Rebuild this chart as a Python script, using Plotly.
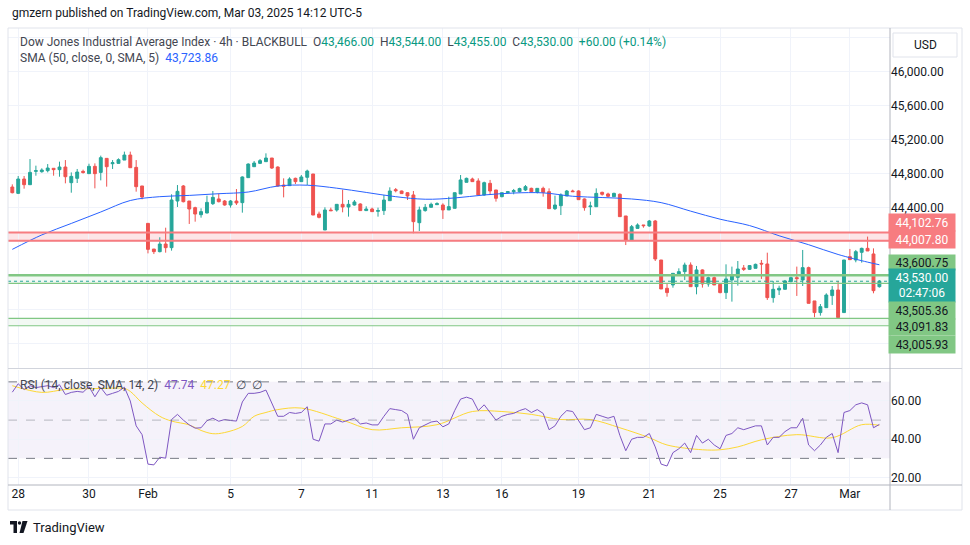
import plotly.graph_objects as go

# ---------------- data ----------------
opens = [44639, 44564, 44733, 44666, 44823, 44819, 44831, 44859, 44843, 44874,
         44690, 44741, 44823, 44796, 44882, 44811, 44976, 44913, 44917, 44956,
         45015, 44870, 44651, 44211, 43909, 43878, 43968, 43925, 44474, 44651,
         44474, 44396, 44313, 44333, 44443, 44498, 44474, 44427, 44474, 44455,
         44749, 44878, 44917, 44937, 44980, 44874, 44662, 44655, 44741, 44702,
         44753, 44792, 44321, 44133, 44368, 44368, 44435, 44404, 44427, 44439,
         44361, 44380, 44353, 44361, 44478, 44608, 44592, 44572, 44545, 44219,
         44361, 44400, 44431, 44427, 44369, 44388, 44557, 44694, 44733, 44710,
         44545, 44682, 44604, 44525, 44572, 44584, 44584, 44604, 44623, 44576,
         44623, 44584, 44384, 44419, 44533, 44592, 44592, 44498, 44407, 44407,
         44576, 44557, 44525, 44553, 44298, 44015, 44152, 44192, 44180, 44239,
         43780, 43447, 43486, 43611, 43643, 43721, 43466, 43663, 43498, 43572,
         43494, 43396, 43545, 43576, 43686, 43670, 43682, 43741, 43733, 43337,
         43427, 43435, 43525, 43572, 43545, 43690, 43298, 43161, 43219, 43361,
         43427, 43161, 43819, 43780, 43870, 43917, 43851, 43466]
highs = [44670, 44768, 44768, 44968, 44890, 44859, 44909, 44859, 44937, 44956,
         44811, 44851, 44843, 44913, 44917, 45008, 44976, 44956, 44976, 45055,
         45055, 44956, 44651, 44211, 43909, 44047, 44160, 44553, 44662, 44662,
         44474, 44407, 44388, 44537, 44592, 44564, 44486, 44486, 44615, 44764,
         44917, 44945, 44968, 45035, 44980, 44882, 44741, 44753, 44749, 44780,
         44843, 44792, 44349, 44400, 44396, 44435, 44607, 44486, 44486, 44447,
         44412, 44396, 44396, 44545, 44635, 44627, 44596, 44576, 44592, 44408,
         44439, 44455, 44459, 44447, 44525, 44572, 44780, 44749, 44749, 44741,
         44702, 44722, 44604, 44572, 44592, 44616, 44631, 44662, 44631, 44623,
         44643, 44623, 44537, 44564, 44604, 44607, 44600, 44505, 44466, 44623,
         44584, 44572, 44572, 44564, 44298, 44192, 44211, 44192, 44251, 44251,
         43780, 43505, 43623, 43682, 43749, 43752, 43710, 43670, 43584, 43584,
         43506, 43729, 43702, 43768, 43721, 43721, 43737, 43780, 43866, 43533,
         43478, 43545, 43584, 43702, 43898, 43702, 43298, 43262, 43388, 43474,
         43533, 43780, 43910, 43898, 43925, 44055, 43917, 43544]
lows = [44564, 44556, 44619, 44666, 44772, 44807, 44811, 44772, 44760, 44682,
        44572, 44686, 44796, 44796, 44623, 44717, 44643, 44851, 44913, 44956,
        44866, 44584, 44494, 43858, 43850, 43870, 43866, 43890, 44404, 44458,
        44204, 44231, 44278, 44329, 44427, 44458, 44419, 44396, 44427, 44337,
        44749, 44878, 44909, 44937, 44851, 44643, 44517, 44655, 44674, 44702,
        44662, 44309, 44270, 44133, 44356, 44349, 44341, 44290, 44420, 44357,
        44357, 44345, 44290, 44310, 44478, 44576, 44557, 44486, 44094, 44121,
        44349, 44396, 44427, 44263, 44369, 44388, 44557, 44694, 44698, 44545,
        44537, 44545, 44467, 44518, 44565, 44553, 44576, 44592, 44576, 44564,
        44525, 44384, 44368, 44309, 44533, 44584, 44486, 44360, 44309, 44407,
        44537, 44517, 44525, 44290, 43956, 44015, 44152, 44160, 44172, 43768,
        43439, 43348, 43454, 43611, 43545, 43466, 43376, 43455, 43466, 43486,
        43388, 43321, 43290, 43478, 43651, 43663, 43682, 43557, 43310, 43278,
        43368, 43435, 43517, 43357, 43474, 43270, 43106, 43125, 43219, 43251,
        43102, 43161, 43784, 43753, 43749, 43886, 43388, 43455]
closes = [44572, 44733, 44666, 44811, 44831, 44839, 44862, 44843, 44874, 44760,
          44764, 44815, 44811, 44882, 44796, 44984, 44878, 44925, 44960, 45015,
          44866, 44643, 44521, 43905, 43878, 43968, 43925, 44486, 44588, 44466,
          44380, 44321, 44349, 44458, 44517, 44466, 44427, 44474, 44451, 44757,
          44909, 44921, 44949, 44980, 44862, 44651, 44647, 44733, 44702, 44757,
          44827, 44309, 44282, 44368, 44360, 44435, 44404, 44435, 44463, 44361,
          44380, 44349, 44361, 44486, 44592, 44596, 44561, 44533, 44231, 44369,
          44400, 44435, 44443, 44369, 44408, 44572, 44722, 44741, 44702, 44545,
          44690, 44592, 44506, 44572, 44584, 44596, 44620, 44643, 44584, 44623,
          44576, 44384, 44427, 44545, 44592, 44584, 44490, 44396, 44415, 44564,
          44553, 44529, 44564, 44290, 44015, 44172, 44192, 44184, 44239, 43792,
          43439, 43396, 43623, 43643, 43721, 43466, 43663, 43498, 43572, 43486,
          43396, 43557, 43596, 43674, 43670, 43714, 43729, 43733, 43337, 43435,
          43447, 43533, 43572, 43561, 43690, 43270, 43161, 43231, 43368, 43427,
          43102, 43780, 43784, 43878, 43917, 43886, 43419, 43530]

# SMA(50) read at selected bars
sma_bar = [0, 5, 10, 15, 20, 25, 30, 35, 40, 45, 50, 55, 60, 65, 70, 75, 80, 85,
           90, 95, 100, 105, 110, 115, 120, 125, 130, 135, 140, 145, 147]
sma_val = [43905, 44075, 44210, 44345, 44480, 44525, 44540, 44560, 44580, 44650,
           44660, 44625, 44575, 44525, 44495, 44510, 44545, 44568, 44570, 44530,
           44515, 44498, 44455, 44355, 44260, 44185, 44065, 43960, 43845, 43755,
           43723.86]

rsi = [64.6, 69, 66, 68, 67, 67.5, 68, 67, 68.5, 63.4, 64.5, 65, 64.6, 67.5, 62.2,
       67, 63, 64, 65, 67.2, 60, 47, 42.4, 27, 26.6, 30.6, 30.1, 50.3, 53, 50,
       47.5, 45.8, 46, 49.7, 51, 49.4, 50.3, 49.8, 49.5, 59.5, 64, 64, 64.5, 65.7,
       59, 52, 52, 54, 53.5, 54, 57, 40, 39, 48, 48, 50, 49, 50, 51, 48,
       48.5, 47.5, 47.5, 52, 56, 55.5, 55, 53, 40, 46, 47.5, 49, 49.5, 46.5, 48,
       55, 61, 62, 61, 55, 58, 54, 50, 52, 53, 53.5, 55, 56, 54, 55.5,
       53.5, 45, 47, 52, 55, 54.5, 50, 45, 46, 53, 52, 51, 52, 42, 34,
       40, 41, 41, 43, 36, 27, 26, 33, 35, 38, 33, 42, 38, 40, 37,
       35, 42, 43, 46, 45, 46, 47, 47, 37, 41, 41, 44, 46, 46, 51,
       37, 34, 37, 41, 43, 33, 54, 55, 58, 59, 58, 46, 47.74]

rsi_ma_bar = [0, 5, 9, 15, 19, 20, 22, 25, 27, 30, 32, 34, 36, 39, 41, 43, 45, 49,
              56, 61, 66, 72, 78, 83, 88, 93, 98, 103, 108, 111, 117, 120, 123,
              127, 133, 139, 144, 147]
rsi_ma_val = [68, 64.5, 66, 66.5, 66.5, 65, 59, 52, 49.5, 47.5, 44.6, 42.9, 43.5,
              46.7, 52, 54, 55.5, 56.3, 50, 45, 46, 47.6, 54.5, 54.5, 53, 50.3,
              50.3, 46, 40.8, 37, 34.5, 34.5, 36, 39.7, 42.4, 40.8, 47.6, 47.27]

tick_bar = [1, 13, 23, 37, 49, 61, 73, 83, 96, 108, 120, 132, 142]
tick_text = ["28", "30", "Feb", "5", "7", "11", "13", "16", "19", "21", "25", "27", "Mar"]

price_ticks = [42800, 43200, 43600, 44000, 44400, 44800, 45200, 45600, 46000, 46400]
price_tick_shown = [False, False, False, False, True, True, True, True, True, False]

resistance = [44102.76, 44007.80]
support_upper = [43600.75, 43505.36]
support_lower = [43091.83, 43005.93]
change_abs = 60.00
change_pct = 0.14
countdown = "02:47:06"

# ---------------- geometry / style ----------------
W, H = 970, 545
ML, MR, MT, MB = 8, 80, 28, 60
PW, PH = W - ML - MR, H - MT - MB


def px(x):
    return (x - ML) / PW


def py(y):
    return (H - MB - y) / PH


UP, DOWN = "#26a69a", "#ef5350"
TXT = "#131722"
GRID = "#f0f3fa"
FONT = "Roboto"

bars = list(range(len(opens)))

fig = go.Figure()
fig.add_trace(go.Candlestick(
    x=bars, open=opens, high=highs, low=lows, close=closes,
    increasing=dict(line=dict(color=UP, width=1), fillcolor=UP),
    decreasing=dict(line=dict(color=DOWN, width=1), fillcolor=DOWN),
    whiskerwidth=0, xaxis="x", yaxis="y", showlegend=False, hoverinfo="skip"))
fig.add_trace(go.Scatter(x=sma_bar, y=sma_val, mode="lines",
                         line=dict(color="#2962ff", width=1, shape="spline"),
                         xaxis="x", yaxis="y", showlegend=False, hoverinfo="skip"))
fig.add_trace(go.Scatter(x=rsi_ma_bar, y=rsi_ma_val, mode="lines",
                         line=dict(color="#fdd835", width=1, shape="spline"),
                         xaxis="x2", yaxis="y2", showlegend=False, hoverinfo="skip"))
fig.add_trace(go.Scatter(x=bars, y=rsi, mode="lines",
                         line=dict(color="#7e57c2", width=1),
                         xaxis="x2", yaxis="y2", showlegend=False, hoverinfo="skip"))

shapes = []
# RSI band and levels
shapes.append(dict(type="rect", xref="x2 domain", yref="y2", x0=0, x1=1, y0=30, y1=70,
                   fillcolor="rgba(126,87,194,0.08)", line=dict(width=0), layer="below"))
for lv, col in [(70, "#787b86"), (50, "rgba(120,123,134,0.5)"), (30, "#787b86")]:
    shapes.append(dict(type="line", xref="x2 domain", yref="y2", x0=0, x1=1, y0=lv, y1=lv,
                       line=dict(color=col, width=1, dash="dash")))
# resistance band
shapes.append(dict(type="rect", xref="x domain", yref="y", x0=0, x1=1,
                   y0=resistance[1], y1=resistance[0],
                   fillcolor="rgba(242,54,69,0.13)", line=dict(width=0), layer="below"))
for lv in resistance:
    shapes.append(dict(type="line", xref="x domain", yref="y", x0=0, x1=1, y0=lv, y1=lv,
                       line=dict(color="#f77c80", width=2)))
# support zones
for lo, hi in [(support_upper[1], support_upper[0]), (support_lower[1], support_lower[0])]:
    shapes.append(dict(type="rect", xref="x domain", yref="y", x0=0, x1=1, y0=lo, y1=hi,
                       fillcolor="rgba(76,175,80,0.07)", line=dict(width=0), layer="below"))
for lv, wd in [(support_upper[0], 2.5), (support_upper[1], 1.2),
               (support_lower[0], 1.2), (support_lower[1], 1.2)]:
    shapes.append(dict(type="line", xref="x domain", yref="y", x0=0, x1=1, y0=lv, y1=lv,
                       line=dict(color="#81c784", width=wd)))
# last price dotted line
shapes.append(dict(type="line", xref="x domain", yref="y", x0=0, x1=1,
                   y0=closes[-1], y1=closes[-1],
                   line=dict(color=UP, width=1, dash="dot")))
# frame / separators
FR = "#e0e3eb"
shapes.append(dict(type="rect", xref="paper", yref="paper", x0=px(8), x1=px(962),
                   y0=py(510), y1=py(28), line=dict(color=FR, width=1)))
shapes.append(dict(type="line", xref="paper", yref="paper", x0=px(8), x1=px(962),
                   y0=py(368.5), y1=py(368.5), line=dict(color="#d1d4dc", width=1)))
shapes.append(dict(type="line", xref="paper", yref="paper", x0=px(8), x1=px(962),
                   y0=py(485), y1=py(485), line=dict(color="#b2b5be", width=1)))
shapes.append(dict(type="line", xref="paper", yref="paper", x0=px(890), x1=px(890),
                   y0=py(510), y1=py(28), line=dict(color="#b2b5be", width=1)))
# USD box
shapes.append(dict(type="rect", xref="paper", yref="paper", x0=px(893), x1=px(957),
                   y0=py(57), y1=py(33), line=dict(color=FR, width=1), fillcolor="white"))
# TradingView logo glyph
logo = (f"M {px(10)} {py(521)} L {px(17)} {py(521)} L {px(17)} {py(533)} "
        f"L {px(13.5)} {py(533)} L {px(13.5)} {py(524.5)} L {px(10)} {py(524.5)} Z")
shapes.append(dict(type="path", xref="paper", yref="paper", path=logo,
                   fillcolor="#131722", line=dict(width=0)))
shapes.append(dict(type="circle", xref="paper", yref="paper", x0=px(17.8), x1=px(21.2),
                   y0=py(524.7), y1=py(521.3), fillcolor="#131722", line=dict(width=0)))
logo2 = (f"M {px(22.5)} {py(521)} L {px(27.5)} {py(521)} L {px(23.5)} {py(533)} "
         f"L {px(19.5)} {py(533)} Z")
shapes.append(dict(type="path", xref="paper", yref="paper", path=logo2,
                   fillcolor="#131722", line=dict(width=0)))

ann = []


def text(x, y, s, size=12, color=TXT, anchor="left", **kw):
    ann.append(dict(xref="paper", yref="paper", x=px(x), y=py(y), text=s, showarrow=False,
                    xanchor=anchor, yanchor="middle", font=dict(family=FONT, size=size, color=color),
                    **kw))


G = "#089981"
nb = "&nbsp;"
text(10, 13, "gmzern published on TradingView.com, Mar 03, 2025 14:12 UTC-5", size=12)
hdr = ("Dow Jones Industrial Average Index · 4h · BLACKBULL" + nb * 2 +
       f"O<span style='color:{G}'>{opens[-1]:,.2f}</span>" + nb * 2 +
       f"H<span style='color:{G}'>{highs[-1]:,.2f}</span>" + nb * 2 +
       f"L<span style='color:{G}'>{lows[-1]:,.2f}</span>" + nb * 2 +
       f"C<span style='color:{G}'>{closes[-1]:,.2f}</span>" + nb * 2 +
       f"<span style='color:{G}'>+{change_abs:.2f} (+{change_pct:.2f}%)</span>")
text(18, 42, hdr, size=12, color="#434651")
text(18, 58, f"SMA (50, close, 0, SMA, 5)" + nb * 2 +
     f"<span style='color:#2962ff'>{sma_val[-1]:,.2f}</span>", size=12, color="#434651")
text(18, 385, "RSI (14, close, SMA, 14, 2)" + nb * 2 +
     f"<span style='color:#7e57c2'>{rsi[-1]:.2f}</span>" + nb * 2 +
     f"<span style='color:#fdd835'>{rsi_ma_val[-1]:.2f}</span>" + nb * 2 + "∅" + nb * 2 + "∅",
     size=12, color="#434651")
text(925, 45, "USD", size=12, anchor="center")
text(31, 527, "TradingView", size=13)

# price axis labels (stacked)
labels = [
    (f"{resistance[0]:,.2f}", 222.5, 17, "#f77c80", "white"),
    (f"{resistance[1]:,.2f}", 239.5, 17, "#f77c80", "white"),
    (f"{support_upper[0]:,.2f}", 262, 15, "#81c784", "#131722"),
    (f"{closes[-1]:,.2f}<br>{countdown}", 285.5, 33, UP, "white"),
    (f"{support_upper[1]:,.2f}", 310.5, 17, "#81c784", "#131722"),
    (f"{support_lower[0]:,.2f}", 327, 16, "#81c784", "#131722"),
    (f"{support_lower[1]:,.2f}", 344, 17, "#81c784", "#131722"),
]
for s, yc, hgt, bg, fc in labels:
    ann.append(dict(xref="paper", yref="paper", x=px(922), y=py(yc), text=s, showarrow=False,
                    xanchor="center", yanchor="middle", width=66, height=hgt, bgcolor=bg,
                    borderpad=0, font=dict(family=FONT, size=12, color=fc)))

XR = [-0.73, 148.8]
fig.update_layout(
    width=W, height=H, margin=dict(l=ML, r=MR, t=MT, b=MB),
    paper_bgcolor="white", plot_bgcolor="white", showlegend=False,
    font=dict(family=FONT, size=12, color=TXT),
    xaxis=dict(domain=[0, 1], anchor="y", range=XR, tickvals=tick_bar, showticklabels=False,
               showgrid=True, gridcolor=GRID, zeroline=False, rangeslider=dict(visible=False),
               ticks=""),
    xaxis2=dict(domain=[0, 1], anchor="y2", range=XR, matches="x", tickvals=tick_bar,
                ticktext=tick_text, showgrid=True, gridcolor=GRID, zeroline=False, ticks="",
                tickfont=dict(family=FONT, size=12, color=TXT)),
    yaxis=dict(domain=[py(368), 1], anchor="x", side="right", range=[42509, 46510],
               tickvals=price_ticks,
               ticktext=[f"{v:,.2f}" if s else "" for v, s in zip(price_ticks, price_tick_shown)],
               showgrid=True, gridcolor=GRID,
               zeroline=False, ticks="", tickfont=dict(family=FONT, size=12, color=TXT)),
    yaxis2=dict(domain=[0, py(370)], anchor="x2", side="right", range=[16.08, 76.2],
                tickvals=[20, 40, 60], tickformat=".2f", showgrid=True, gridcolor=GRID,
                zeroline=False, ticks="", tickfont=dict(family=FONT, size=12, color=TXT)),
    shapes=shapes, annotations=ann,
)
fig.write_html("out.html", config={"displayModeBar": False},
               post_script="document.body.style.margin='0px';document.body.style.overflow='hidden';")
